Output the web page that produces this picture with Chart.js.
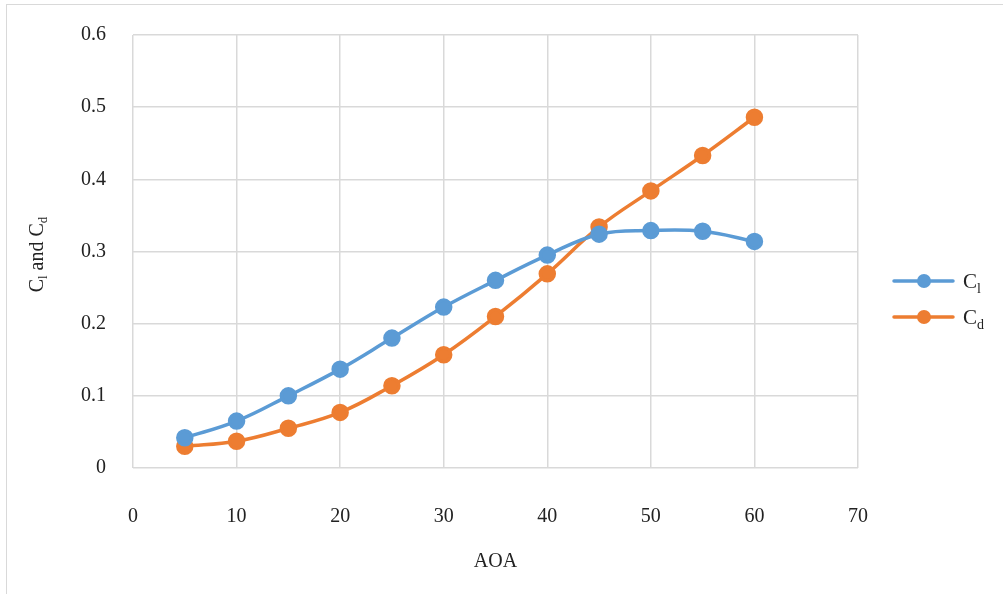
<!DOCTYPE html>
<html>
<head>
<meta charset="utf-8">
<script src="https://cdn.jsdelivr.net/npm/chart.js@4/dist/chart.umd.min.js"></script>
<style>
  html, body { margin: 0; padding: 0; background: #ffffff; }
  #wrap { position: relative; width: 1003px; height: 594px; }
  canvas { display: block; }
</style>
</head>
<body>
<div id="wrap"><canvas id="chart" width="1003" height="594"></canvas></div>
<script>
// Angle of attack (degrees)
const aoa = [5, 10, 15, 20, 25, 30, 35, 40, 45, 50, 55, 60];
// Lift coefficient
const liftCoeff = [0.042, 0.065, 0.100, 0.137, 0.180, 0.223, 0.260, 0.295, 0.324, 0.329, 0.328, 0.314];
// Drag coefficient
const dragCoeff = [0.030, 0.037, 0.055, 0.077, 0.114, 0.157, 0.210, 0.269, 0.334, 0.384, 0.433, 0.486];

const xTitle = 'AOA';
const seriesNames = [['C', 'l'], ['C', 'd']];
const yTitleParts = [['C', 'l'], [' and C', 'd']];

const BLUE = '#5b9bd5';
const ORANGE = '#ed7d31';
const GRID = '#d9d9d9';
const TEXT = '#222222';
const FONT = '"Liberation Serif", "Times New Roman", serif';

function toPoints(xs, ys) {
  return xs.map((x, i) => ({ x: x, y: ys[i] }));
}

// Draws "base" + lowered, smaller "sub" pairs starting at x, baseline y
function drawSubText(ctx, parts, x, y, size) {
  let cx = x;
  for (const [base, sub] of parts) {
    ctx.font = size + 'px ' + FONT;
    ctx.fillText(base, cx, y);
    cx += ctx.measureText(base).width;
    ctx.font = Math.round(size * 0.65) + 'px ' + FONT;
    ctx.fillText(sub, cx, y + size * 0.22);
    cx += ctx.measureText(sub).width;
  }
  return cx - x;
}

function measureSubText(ctx, parts, size) {
  let w = 0;
  for (const [base, sub] of parts) {
    ctx.font = size + 'px ' + FONT;
    w += ctx.measureText(base).width;
    ctx.font = Math.round(size * 0.65) + 'px ' + FONT;
    w += ctx.measureText(sub).width;
  }
  return w;
}

// Outer frame, rotated y title and the legend with subscripted names
const decorations = {
  id: 'decorations',
  beforeDraw(chart) {
    const ctx = chart.ctx;
    ctx.save();
    ctx.fillStyle = '#ffffff';
    ctx.fillRect(0, 0, chart.width, chart.height);
    ctx.strokeStyle = '#d9d9d9';
    ctx.lineWidth = 1;
    ctx.strokeRect(6.5, 4.5, chart.width + 10, chart.height + 10);
    ctx.restore();
  },
  afterDraw(chart) {
    const ctx = chart.ctx;
    const area = chart.chartArea;
    ctx.save();
    ctx.fillStyle = TEXT;
    ctx.textBaseline = 'alphabetic';
    ctx.textAlign = 'left';

    // y-axis title
    const size = 20;
    const w = measureSubText(ctx, yTitleParts, size);
    ctx.translate(43, (area.top + area.bottom) / 2 + 3);
    ctx.rotate(-Math.PI / 2);
    drawSubText(ctx, yTitleParts, -w / 2, 0, size);
    ctx.setTransform(1, 0, 0, 1, 0, 0);

    // legend
    const colors = [BLUE, ORANGE];
    const rowY = [281, 317];
    chart.data.datasets.forEach((ds, i) => {
      const y = rowY[i];
      ctx.strokeStyle = colors[i];
      ctx.lineWidth = 3.5;
      ctx.lineCap = 'round';
      ctx.beginPath();
      ctx.moveTo(894, y);
      ctx.lineTo(953, y);
      ctx.stroke();
      ctx.fillStyle = colors[i];
      ctx.beginPath();
      ctx.arc(924, y, 7, 0, Math.PI * 2);
      ctx.fill();
      ctx.fillStyle = TEXT;
      drawSubText(ctx, [seriesNames[i]], 963, y + 7, 21);
    });
    ctx.restore();
  }
};

const ctx = document.getElementById('chart').getContext('2d');
new Chart(ctx, {
  type: 'line',
  data: {
    datasets: [
      {
        label: 'Cl',
        data: toPoints(aoa, liftCoeff),
        borderColor: BLUE,
        backgroundColor: BLUE,
        pointBackgroundColor: BLUE,
        pointBorderColor: BLUE,
        borderWidth: 3.5,
        pointRadius: 7,
        pointHoverRadius: 7,
        tension: 0.4,
        fill: false
      },
      {
        label: 'Cd',
        data: toPoints(aoa, dragCoeff),
        borderColor: ORANGE,
        backgroundColor: ORANGE,
        pointBackgroundColor: ORANGE,
        pointBorderColor: ORANGE,
        borderWidth: 3.5,
        pointRadius: 7,
        pointHoverRadius: 7,
        tension: 0.4,
        fill: false
      }
    ]
  },
  options: {
    responsive: false,
    animation: false,
    devicePixelRatio: 1,
    layout: { padding: { left: 0, right: 145, top: 35, bottom: 0 } },
    plugins: {
      legend: { display: false },
      tooltip: { enabled: false },
      title: { display: false }
    },
    scales: {
      x: {
        type: 'linear',
        min: 0,
        max: 70,
        afterFit(scale) {
          scale.height = 126;
          scale.paddingLeft = 0;
          scale.paddingRight = 0;
        },
        ticks: {
          stepSize: 10,
          padding: 37,
          color: TEXT,
          font: { family: FONT, size: 20 },
          maxRotation: 0
        },
        grid: { color: GRID, lineWidth: 1.5, drawTicks: false },
        border: { display: false },
        title: {
          display: true,
          text: xTitle,
          color: TEXT,
          font: { family: FONT, size: 20 },
          padding: { top: 0, bottom: 20 }
        }
      },
      y: {
        min: 0,
        max: 0.6,
        afterFit(scale) {
          scale.width = 133;
          scale.paddingTop = 0;
          scale.paddingBottom = 0;
        },
        ticks: {
          stepSize: 0.1,
          padding: 27,
          color: TEXT,
          font: { family: FONT, size: 20 },
          callback: (v) => Number(v.toFixed(1)).toString()
        },
        grid: { color: GRID, lineWidth: 1.5, drawTicks: false },
        border: { display: false }
      }
    }
  },
  plugins: [decorations]
});
</script>
</body>
</html>
